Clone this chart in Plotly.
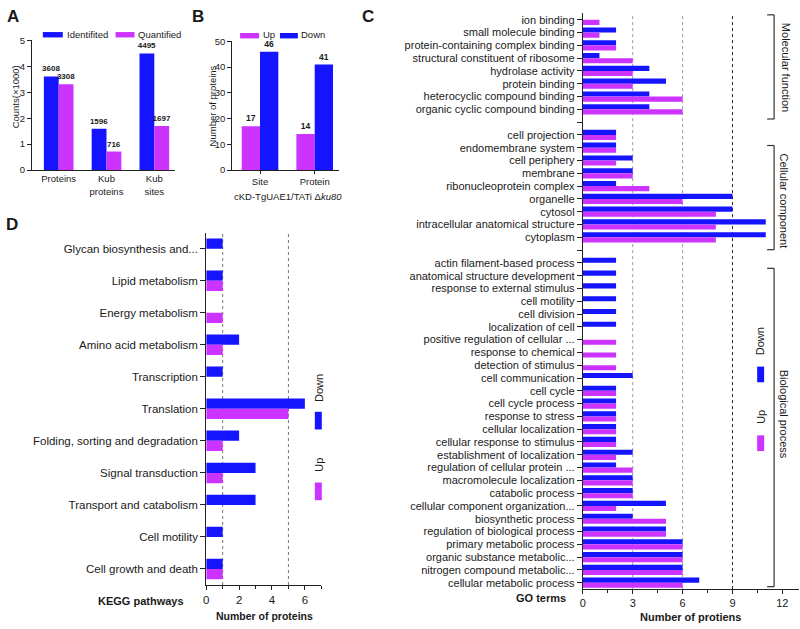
import plotly.graph_objects as go

W, H = 800, 629
BLUE = "#1414ff"
MAG = "#cc33ff"
FONT = "Liberation Sans, Arial, sans-serif"
TXT = "#1a1a1a"

# ---------------- Panel A data ----------------
a_categories = ["Proteins", "Kub<br>proteins", "Kub<br>sites"]
a_identified = [3608, 1596, 4495]
a_quantified = [3308, 716, 1697]

# ---------------- Panel B data ----------------
b_categories = ["Site", "Protein"]
b_up = [17, 14]
b_down = [46, 41]

# ---------------- Panel C data (GO terms) ----------------
mf_terms = ["ion binding", "small molecule binding", "protein-containing complex binding",
            "structural constituent of ribosome", "hydrolase activity", "protein binding",
            "heterocyclic compound binding", "organic cyclic compound binding"]
mf_down = [0, 2, 2, 1, 4, 5, 4, 4]
mf_up = [1, 1, 2, 3, 3, 3, 6, 6]

cc_terms = ["cell projection", "endomembrane system", "cell periphery", "membrane",
            "ribonucleoprotein complex", "organelle", "cytosol",
            "intracellular anatomical structure", "cytoplasm"]
cc_down = [2, 2, 3, 3, 2, 9, 9, 11, 11]
cc_up = [2, 2, 2, 3, 4, 6, 8, 8, 8]

bp_terms = ["actin filament-based process", "anatomical structure development",
            "response to external stimulus", "cell motility", "cell division",
            "localization of cell", "positive regulation of cellular ...",
            "response to chemical", "detection of stimulus", "cell communication",
            "cell cycle", "cell cycle process", "response to stress",
            "cellular localization", "cellular response to stimulus",
            "establishment of localization", "regulation of cellular protein ...",
            "macromolecule localization", "catabolic process",
            "cellular component organization...", "biosynthetic process",
            "regulation of biological process", "primary metabolic process",
            "organic substance metabolic...", "nitrogen compound metabolic...",
            "cellular metabolic process"]
bp_down = [2, 2, 2, 2, 2, 2, 0, 0, 0, 3, 2, 2, 2, 2, 2, 3, 2, 3, 3, 5, 3, 5, 6, 6, 6, 7]
bp_up = [0, 0, 0, 0, 0, 0, 2, 2, 2, 0, 2, 2, 2, 2, 2, 2, 3, 3, 3, 2, 5, 5, 6, 6, 6, 6]

go_order = mf_terms + ["_gap1"] + cc_terms + ["_gap2"] + bp_terms
go_ticktext = ["" if t.startswith("_gap") else t for t in go_order]

# ---------------- Panel D data (KEGG) ----------------
d_pathways = ["Glycan biosynthesis and...", "Lipid metabolism", "Energy metabolism",
              "Amino acid metabolism", "Transcription", "Translation",
              "Folding, sorting and degradation", "Signal transduction",
              "Transport and catabolism", "Cell motility", "Cell growth and death"]
d_down = [1, 1, 0, 2, 1, 6, 2, 3, 3, 1, 1]
d_up = [0, 1, 1, 1, 0, 5, 1, 1, 0, 0, 1]


def px(x):
    return x / W


def py(y):
    return 1 - y / H


fig = go.Figure()

# Panel A bars
wa = 0.31
fig.add_trace(go.Bar(x=a_categories, y=[v / 1000 for v in a_identified], text=a_identified,
                     width=wa, offset=-wa, marker=dict(color=BLUE, line=dict(width=0)),
                     textposition="outside", cliponaxis=False, constraintext="none",
                     texttemplate="<b>%{text}</b>", textfont=dict(size=8, color=TXT),
                     xaxis="x", yaxis="y", showlegend=False, name="Identifited"))
fig.add_trace(go.Bar(x=a_categories, y=[v / 1000 for v in a_quantified], text=a_quantified,
                     width=wa, offset=0, marker=dict(color=MAG, line=dict(width=0)),
                     textposition="outside", cliponaxis=False, constraintext="none",
                     texttemplate="<b>%{text}</b>", textfont=dict(size=8, color=TXT),
                     xaxis="x", yaxis="y", showlegend=False, name="Quantified"))

# Panel B bars
wb = 0.335
fig.add_trace(go.Bar(x=b_categories, y=b_up, text=b_up, width=wb, offset=-wb,
                     marker=dict(color=MAG, line=dict(width=0)),
                     textposition="outside", cliponaxis=False, constraintext="none",
                     texttemplate="<b>%{text}</b>", textfont=dict(size=8.5, color=TXT),
                     xaxis="x2", yaxis="y2", showlegend=False, name="Up"))
fig.add_trace(go.Bar(x=b_categories, y=b_down, text=b_down, width=wb, offset=0,
                     marker=dict(color=BLUE, line=dict(width=0)),
                     textposition="outside", cliponaxis=False, constraintext="none",
                     texttemplate="<b>%{text}</b>", textfont=dict(size=8.5, color=TXT),
                     xaxis="x2", yaxis="y2", showlegend=False, name="Down"))

# Panel C bars
wc = 0.4
go_terms = mf_terms + cc_terms + bp_terms
go_down = mf_down + cc_down + bp_down
go_up = mf_up + cc_up + bp_up
fig.add_trace(go.Bar(y=go_terms, x=go_down, orientation="h", width=wc, offset=-wc,
                     marker=dict(color=BLUE, line=dict(width=0)),
                     xaxis="x3", yaxis="y3", showlegend=False, name="Down"))
fig.add_trace(go.Bar(y=go_terms, x=go_up, orientation="h", width=wc, offset=0,
                     marker=dict(color=MAG, line=dict(width=0)),
                     xaxis="x3", yaxis="y3", showlegend=False, name="Up"))

# Panel D bars
wd = 0.32
fig.add_trace(go.Bar(y=d_pathways, x=d_down, orientation="h", width=wd, offset=-wd,
                     marker=dict(color=BLUE, line=dict(width=0)),
                     xaxis="x4", yaxis="y4", showlegend=False, name="Down"))
fig.add_trace(go.Bar(y=d_pathways, x=d_up, orientation="h", width=wd, offset=0,
                     marker=dict(color=MAG, line=dict(width=0)),
                     xaxis="x4", yaxis="y4", showlegend=False, name="Up"))

axc = dict(showline=True, linecolor="#222222", linewidth=1, showgrid=False,
           zeroline=False, tickcolor="#222222")

fig.update_layout(
    width=W, height=H, margin=dict(l=0, r=0, t=0, b=0),
    paper_bgcolor="white", plot_bgcolor="white",
    font=dict(family=FONT, color=TXT),
    barmode="overlay",
    xaxis=dict(domain=[px(29), px(173)], range=[-0.56, 2.44], anchor="y", ticks="",
               tickfont=dict(size=9.5, color=TXT), **axc),
    yaxis=dict(domain=[py(167), py(35)], range=[0, 5], anchor="x", tickvals=[0, 1, 2, 3, 4, 5],
               ticks="outside", ticklen=4, tickfont=dict(size=9.5, color=TXT), **axc),
    xaxis2=dict(domain=[px(230), px(337)], range=[-0.51, 1.44], anchor="y2", ticks="outside",
                ticklen=3, tickfont=dict(size=9.5, color=TXT), **axc),
    yaxis2=dict(domain=[py(167), py(36)], range=[0, 50], anchor="x2", dtick=10,
                ticks="outside", ticklen=4, tickfont=dict(size=9.5, color=TXT), **axc),
    xaxis3=dict(domain=[px(582), px(799)], range=[0, 13], anchor="y3",
                tickvals=[0, 3, 6, 9, 12], ticks="outside", ticklen=4,
                minor=dict(dtick=1.5, tick0=0, ticks="outside", ticklen=3, tickcolor="#222222"),
                tickfont=dict(size=11, color=TXT), **axc),
    yaxis3=dict(domain=[py(593.5), py(7.5)], range=[len(go_order) - 0.5, -0.5], anchor="x3",
                type="category", categoryorder="array", categoryarray=go_order,
                tickmode="array", tickvals=go_order, ticktext=go_ticktext,
                ticks="outside", ticklen=5, tickfont=dict(size=11, color=TXT), **axc),
    xaxis4=dict(domain=[px(204), px(319.5)], range=[0, 7], anchor="y4",
                tickvals=[0, 2, 4, 6], ticks="outside", ticklen=4,
                minor=dict(dtick=1, tick0=0, ticks="outside", ticklen=3, tickcolor="#222222"),
                tickfont=dict(size=11.5, color=TXT), **axc),
    yaxis4=dict(domain=[py(589.3), py(230.7)], range=[len(d_pathways) - 0.5, -0.5], anchor="x4",
                type="category", categoryorder="array", categoryarray=d_pathways,
                tickmode="array", tickvals=d_pathways, ticktext=d_pathways,
                ticks="outside", ticklen=5, tickfont=dict(size=11.5, color=TXT), **axc),
)

shapes = []
# dotted reference lines in C and D
for xv, col in [(3, "#9a9a9a"), (6, "#9a9a9a"), (9, "#222222")]:
    shapes.append(dict(type="line", xref="x3", yref="y3 domain", x0=xv, x1=xv, y0=0, y1=1,
                       line=dict(color=col, width=1, dash="dot"), layer="below"))
for xv in [1, 5]:
    shapes.append(dict(type="line", xref="x4", yref="y4 domain", x0=xv, x1=xv, y0=0, y1=1,
                       line=dict(color="#777777", width=1, dash="dot"), layer="below"))


def rect(x0, y0, x1, y1, color):
    shapes.append(dict(type="rect", xref="paper", yref="paper", x0=px(x0), x1=px(x1),
                       y0=py(y1), y1=py(y0), fillcolor=color, line=dict(width=0)))


def seg(x0, y0, x1, y1, color="#333333", w=1.2):
    shapes.append(dict(type="line", xref="paper", yref="paper", x0=px(x0), x1=px(x1),
                       y0=py(y0), y1=py(y1), line=dict(color=color, width=w)))


# legends A and B
rect(40, 26.5, 60, 32, BLUE)
rect(113, 26.5, 132, 32, MAG)
rect(238, 27.5, 257, 33, MAG)
rect(278, 27.5, 296, 33, BLUE)
# legend C
rect(757, 367, 764, 383, BLUE)
rect(757, 437, 764, 453, MAG)
# legend D
rect(313, 413, 320, 431, BLUE)
rect(313, 485, 320, 503, MAG)

# brackets in C
for (t, b) in [(9, 115), (142, 248), (267, 591)]:
    seg(774, t, 774, b)
    seg(767, t, 774, t)
    seg(767, b, 774, b)

fig.update_layout(shapes=shapes)

ann = []


def text(x, y, s, size=10, bold=False, angle=0, xanchor="center", yanchor="middle"):
    ann.append(dict(xref="paper", yref="paper", x=px(x), y=py(y),
                    text=f"<b>{s}</b>" if bold else s, showarrow=False,
                    font=dict(size=size, family=FONT, color=TXT), textangle=angle,
                    xanchor=xanchor, yanchor=yanchor, borderpad=0))


# panel letters
text(10, 11, "A", 17, True)
text(196, 11, "B", 17, True)
text(366, 11, "C", 17, True)
text(9, 222, "D", 17, True)

# legends A, B text
text(63, 29, "Identifited", 9.5, xanchor="left")
text(135, 29, "Quantified", 9.5, xanchor="left")
text(260, 29.5, "Up", 9.5, xanchor="left")
text(298, 29.5, "Down", 9.5, xanchor="left")

# axis titles
text(12, 92, "Counts(×1000)", 9.5, angle=-90)
text(210, 102, "Number of proteins", 9.5, angle=-90)
text(286, 194, "cKD-TgUAE1/TATi Δ<i>ku80</i>", 9.5)

# panel C labels
text(540, 603, "GO terms", 11, True)
text(690, 622, "Number of protiens", 11, True)
text(760, 341, "Down", 11, angle=-90)
text(761, 418, "Up", 11, angle=-90)
text(786, 62, "Molecular function", 11, angle=90)
text(784, 198, "Cellular component", 11, angle=90)
text(784, 415, "Biological process", 11, angle=90)

# panel D labels
text(139, 606, "KEGG pathways", 11, True)
text(262, 621, "Number of proteins", 10.5, True)
text(317, 389, "Down", 11, angle=-90)
text(317, 467, "Up", 11, angle=-90)

fig.update_layout(annotations=ann)

fig.write_html("out.html", config={"displayModeBar": False},
               post_script="document.body.style.margin='0';document.body.style.overflow='hidden';")
